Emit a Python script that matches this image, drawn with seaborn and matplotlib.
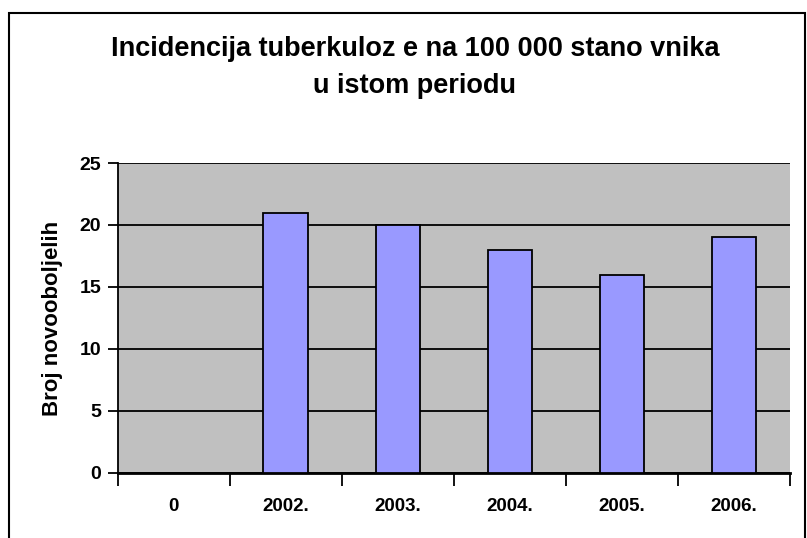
import matplotlib
matplotlib.use('Agg')
import matplotlib.pyplot as plt
import seaborn as sns
from matplotlib.patches import Rectangle
from matplotlib.ticker import FixedLocator

# podaci
godine = ['0', '2002.', '2003.', '2004.', '2005.', '2006.']
oboljeli = [0, 21, 20, 18, 16, 19]
y_ticks = [0, 5, 10, 15, 20, 25]

sns.set_style('white')
plt.rcParams['font.family'] = ['Liberation Sans Narrow', 'Liberation Sans', 'DejaVu Sans']
plt.rcParams['text.color'] = 'black'
plt.rcParams['axes.labelcolor'] = 'black'
plt.rcParams['xtick.color'] = 'black'
plt.rcParams['ytick.color'] = 'black'

fig = plt.figure(figsize=(8.07, 5.38), dpi=100)
ax = fig.add_axes([0.146, 0.121, 0.833, 0.576])
ax.set_facecolor('#C0C0C0')

sns.barplot(x=godine, y=oboljeli, color='#9999FF', saturation=1, width=0.4,
            edgecolor='black', linewidth=1.3, ax=ax, zorder=3)

# horizontalne linije
ax.set_ylim(0, 25)
ax.set_yticks(y_ticks)
ax.grid(axis='y', color='black', linewidth=1.3, zorder=0)
ax.grid(axis='x', visible=False)
ax.set_axisbelow(True)
ax.set_xlim(-0.5, len(godine) - 0.5)

for s in ['top', 'right']:
    ax.spines[s].set_visible(False)
ax.spines['left'].set_color('black')
ax.spines['left'].set_linewidth(1.3)
ax.spines['bottom'].set_color('black')
ax.spines['bottom'].set_linewidth(2)

# crtice na granicama kategorija
ax.xaxis.set_minor_locator(FixedLocator([i - 0.5 for i in range(len(godine) + 1)]))
ax.tick_params(axis='x', which='minor', bottom=True, length=9, width=1.3, color='black', direction='out')
ax.tick_params(axis='x', which='major', bottom=False, length=0, pad=18)
ax.tick_params(axis='y', left=True, length=7, width=1.3, color='black', direction='out', pad=5)
for lab in ax.get_xticklabels():
    lab.set_fontsize(13.5)
    lab.set_fontweight('bold')
for lab in ax.get_yticklabels():
    lab.set_fontsize(14)
    lab.set_fontweight('bold')

ax.set_xlabel('')
ax.set_ylabel('Broj novooboljelih', fontsize=16, fontweight='bold', labelpad=12)

fig.text(0.514, 0.874, 'Incidencija tuberkuloz e na 100 000 stano vnika\nu istom periodu',
         ha='center', va='center', fontsize=19.5, fontweight='bold', linespacing=1.55)

# okvir oko grafikona
fig.patches.append(Rectangle((0.011, -0.05), 0.986, 1.025, transform=fig.transFigure,
                             fill=False, edgecolor='black', linewidth=1.5))

fig.savefig('out.png', dpi=100)
